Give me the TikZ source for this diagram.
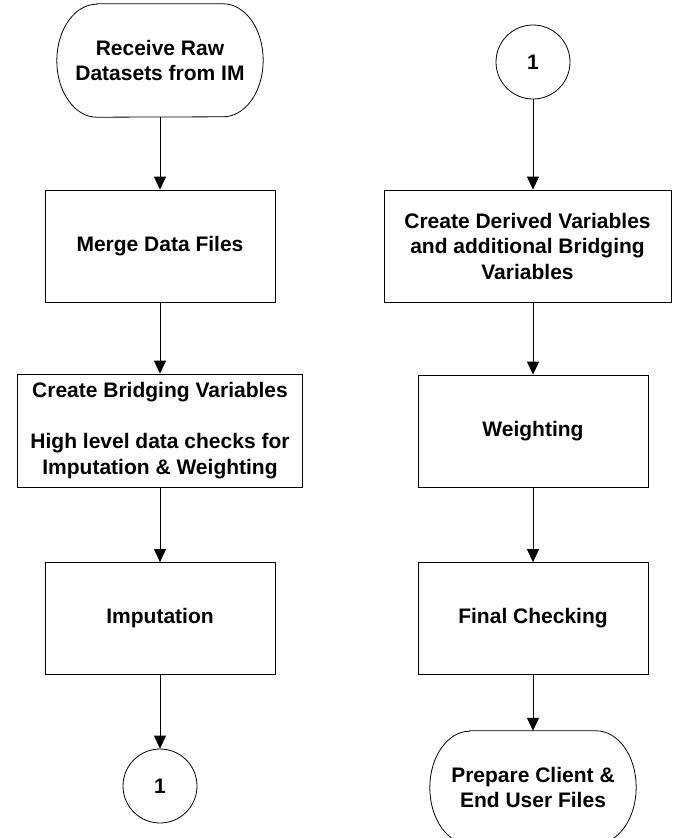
\documentclass[tikz,border=0pt]{standalone}
\usepackage{fontspec}
\setmainfont{Liberation Sans}
\usetikzlibrary{arrows.meta}
\begin{document}
\begin{tikzpicture}[x=1pt,y=-1pt,
  lbl/.style={font=\fontsize{21}{25.5}\selectfont\bfseries, align=center},
  procbox/.style={lbl, draw=black, line width=0.8pt, fill=white, minimum height=112pt, inner sep=0pt},
  termshape/.style={lbl, minimum width=206pt, minimum height=113pt, inner sep=0pt},
  conn/.style={circle, draw=black, line width=0.8pt, minimum size=74pt, inner sep=0pt, font=\fontsize{21}{25}\selectfont\bfseries},
  flow/.style={draw=black, line width=0.8pt, -{Triangle[length=13pt,width=12pt]}}
]
\useasboundingbox (0,0) rectangle (673,838);
\begin{scope}
\clip (0,0) rectangle (673,838);
% left column
\node[termshape] (t1) at (160,60.5) {Receive Raw\\Datasets from IM};
\draw[line width=0.8pt] ([xshift=40pt]t1.north west) -- ([xshift=-40pt]t1.north east)
  arc[start angle=90, end angle=-90, x radius=40pt, y radius=56.5pt]
  -- ([xshift=40pt]t1.south west)
  arc[start angle=270, end angle=90, x radius=40pt, y radius=56.5pt] -- cycle;
\node[procbox, minimum width=230pt] (m1) at (160,246) {Merge Data Files};
\node[procbox, minimum width=285pt, minimum height=113pt] (b1) at (160,430.5) {Create Bridging Variables\\[25.5pt]High level data checks for\\Imputation \& Weighting};
\node[procbox, minimum width=230pt] (i1) at (160,618.5) {Imputation};
\node[conn] (c1) at (160,786) {1};
% right column
\node[conn] (c2) at (533,62) {1};
\node[procbox, minimum width=287pt] (d1) at (527.5,246) {Create Derived Variables\\and additional Bridging\\Variables};
\node[procbox, minimum width=230pt] (w1) at (533,431) {Weighting};
\node[procbox, minimum width=230pt] (f1) at (533,618.5) {Final Checking};
\node[termshape] (t2) at (533,787.5) {Prepare Client \&\\End User Files};
\draw[line width=0.8pt] ([xshift=40pt]t2.north west) -- ([xshift=-40pt]t2.north east)
  arc[start angle=90, end angle=-90, x radius=40pt, y radius=56.5pt]
  -- ([xshift=40pt]t2.south west)
  arc[start angle=270, end angle=90, x radius=40pt, y radius=56.5pt] -- cycle;
% connectors
\draw[flow] (t1.south) -- (m1.north);
\draw[flow] (m1.south) -- (b1.north);
\draw[flow] (b1.south) -- (i1.north);
\draw[flow] (i1.south) -- (c1.north);
\draw[flow] (c2.south) -- (d1.north -| c2.south);
\draw[flow] (d1.south -| w1.north) -- (w1.north);
\draw[flow] (w1.south) -- (f1.north);
\draw[flow] (f1.south) -- (t2.north);
\end{scope}
\end{tikzpicture}
\end{document}
